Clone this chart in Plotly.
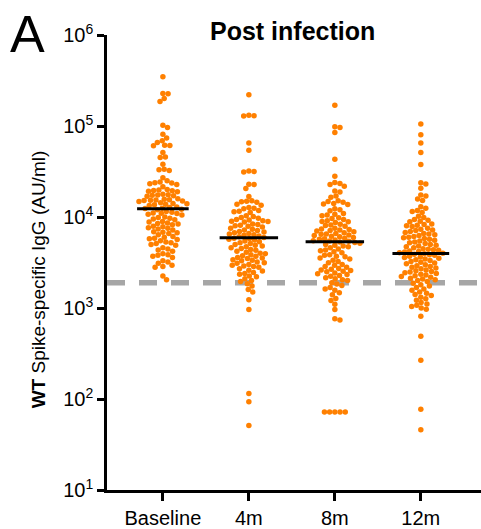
import numpy as np
import plotly.graph_objects as go

# ---------------- data (AU/ml) ----------------
categories = ["Baseline", "4m", "8m", "12m"]

baseline = [347000, 228000, 226000, 201000, 186000, 102000, 96000, 81000, 74000, 69000,
            66000, 61500, 61000, 60500, 51000, 45500, 45000, 38000, 33500, 33000, 32500,
            27000, 25000, 24200, 23800, 23600, 23200, 22800, 21500,
            20000, 19800, 19600, 19400, 19200, 19000,
            17800, 17600, 17400, 17300, 17100, 16900,
            15900, 15700, 15500, 15400, 15300, 15200, 15000, 14800,
            14300, 14100, 14000, 13800, 13600, 13400,
            12900, 12700, 12500, 12400, 12200, 12000,
            11500, 11300, 11100, 11000, 10900, 10700, 10500,
            10000, 9900, 9700, 9500, 9300,
            8900, 8800, 8600, 8500, 8400, 8200,
            7900, 7800, 7600, 7500, 7400, 7200,
            6900, 6800, 6700, 6600, 6400,
            6100, 6000, 5850, 5750, 5650, 5500,
            5300, 5200, 5100, 5000, 4900,
            4600, 4450, 4350, 4200,
            3950, 3850, 3800, 3700, 3600,
            3300, 3200, 3100,
            2950, 2850, 2800,
            2250, 2050]

m4 = [221000, 131000, 130000, 129000, 65000, 54000, 32000, 31600, 31200,
      22900, 22700, 20600, 16800,
      15100, 14900, 14700, 14500,
      13800, 13500,
      12700, 12500, 12300,
      11800, 11600, 11400, 11200,
      10300, 10100, 9900, 9700,
      9400, 9250, 9100, 9000, 8900, 8800,
      8400, 8250, 8100, 8000, 7900, 7750,
      7500, 7350, 7200, 7100, 6950, 6850,
      6700, 6600, 6500, 6400, 6300, 6200,
      6050, 5950, 5850, 5800, 5700, 5600,
      5450, 5350, 5200, 5100, 5000, 4900,
      4800, 4700, 4600, 4500, 4400, 4300,
      4200, 4100, 4000, 3950, 3850,
      3750, 3700, 3600, 3550, 3500, 3400,
      3350, 3300, 3200, 3150, 3100, 3000,
      2950, 2900, 2850, 2800, 2700,
      2600, 2550, 2450, 2400,
      2350, 2250, 2200,
      2100, 2000, 1950,
      1850, 1750,
      1600, 1500,
      1230, 960, 115, 93, 51]

m8 = [169000, 98000, 96000, 85000, 43000, 28000,
      24000, 23400, 22800, 21800,
      19300, 18800,
      17000, 16500,
      15100, 14800, 14500,
      14100, 13900, 13700,
      12300, 12000, 11700,
      10900, 10700, 10500, 10300,
      9800, 9600, 9400,
      9100, 8950, 8850, 8700,
      8300, 8150, 8050, 7900,
      7500, 7400, 7300, 7200, 7100, 7000, 6900,
      6700, 6600, 6500, 6450, 6350, 6250,
      6150, 6050, 5950, 5850, 5750, 5700, 5600,
      5500, 5450, 5400, 5300, 5250, 5150,
      5000, 4900, 4800, 4700, 4600,
      4450, 4350, 4250, 4150, 4050,
      3850, 3800, 3700, 3650, 3550,
      3450, 3350, 3250, 3150,
      3000, 2950, 2850, 2800,
      2720, 2670, 2620, 2580, 2540, 2500,
      2420, 2380, 2330, 2280, 2240,
      2150, 2100, 2050, 2000,
      1900, 1830, 1770,
      1680, 1620, 1570,
      1470, 1400,
      1270, 1210,
      1100, 960, 760, 740,
      72, 72, 72, 72, 72]

m12 = [105000, 80000, 65000, 51000, 37700,
       23800, 23000, 20700,
       17500, 17000,
       15800, 15200,
       13000, 12500,
       11800, 11500, 11200,
       10200, 9900,
       9400, 9200, 9000, 8850,
       8400, 8250, 8100, 8000, 7850,
       7500, 7350, 7200, 7100, 6950,
       6750, 6600, 6500, 6400, 6250,
       6100, 6000, 5900, 5800, 5700,
       5550, 5450, 5300, 5200, 5100,
       5000, 4900, 4800, 4700, 4600,
       4480, 4420, 4360, 4300, 4240, 4180, 4120,
       4050, 4000, 3950, 3900, 3850, 3800,
       3700, 3640, 3580, 3520, 3460, 3400,
       3320, 3250, 3180, 3120, 3060,
       2980, 2920, 2860, 2800, 2750, 2700,
       2620, 2570, 2520, 2480, 2440, 2400,
       2350, 2300, 2260, 2220, 2180,
       2120, 2080, 2040, 2000, 1960,
       1870, 1800, 1740,
       1680, 1620, 1570,
       1500, 1450, 1410, 1370,
       1310, 1260, 1220,
       1150, 1110, 1070,
       1040, 1000, 970,
       810, 490, 266, 77, 46]

medians = [12300, 5900, 5350, 3960]
threshold = 1900
y_exponents = [1, 2, 3, 4, 5, 6]

groups = [baseline, m4, m8, m12]

# ---------------- layout geometry ----------------
W, H = 481, 529
ML, MR, MT, MB = 107, 0, 35, 34
XR = [-0.65, 3.70]
YR = [1, 6]
PW = W - ML - MR
PH = H - MT - MB
PPU_X = PW / (XR[1] - XR[0])
PPU_Y = PH / (YR[1] - YR[0])
DOT_D = 5.2          # collision diameter in px
MED_HALF = [0.30, 0.34, 0.34, 0.33]
ORANGE = "#FF8000"
FONT = "Arial, 'Liberation Sans', sans-serif"


def swarm_offsets(values, diam):
    ys = np.log10(np.asarray(values, float)) * PPU_Y
    order = np.argsort(-ys, kind="stable")
    px_list, py_list = [], []
    offs = np.zeros(len(ys))
    for i in order:
        y = ys[i]
        cands = [0.0]
        for px, py in zip(px_list, py_list):
            dy = abs(py - y)
            if dy < diam:
                dx = np.sqrt(diam ** 2 - dy ** 2)
                cands += [px + dx, px - dx]
        cands.sort(key=lambda c: (round(abs(c), 6), -c))
        chosen = 0.0
        for c in cands:
            if all((px - c) ** 2 + (py - y) ** 2 >= diam ** 2 - 1e-6
                   for px, py in zip(px_list, py_list)):
                chosen = c
                break
        px_list.append(chosen)
        py_list.append(y)
        offs[i] = chosen
    return offs / PPU_X


fig = go.Figure()
for gi, vals in enumerate(groups):
    offs = swarm_offsets(vals, DOT_D)
    fig.add_trace(go.Scatter(
        x=gi + offs, y=vals, mode="markers",
        marker=dict(color=ORANGE, size=5.5, line=dict(width=0)),
        showlegend=False, hoverinfo="y", cliponaxis=False))

for gi, med in enumerate(medians):
    fig.add_trace(go.Scatter(
        x=[gi - MED_HALF[gi], gi + MED_HALF[gi]], y=[med, med], mode="lines",
        line=dict(color="black", width=3), showlegend=False, hoverinfo="skip"))

fig.add_shape(type="line", xref="paper", x0=0, x1=1, yref="y",
              y0=threshold, y1=threshold, layer="below",
              line=dict(color="#A6A6A6", width=5.5, dash="18px,14px"))

axis_common = dict(showline=True, linewidth=2.6, linecolor="black", mirror=False,
                   ticks="outside", tickwidth=2.6, tickcolor="black",
                   showgrid=False, zeroline=False,
                   tickfont=dict(family=FONT, size=20, color="black"))

fig.update_xaxes(range=XR, tickvals=list(range(len(categories))), ticktext=categories,
                 ticklen=8, **axis_common)
fig.update_yaxes(type="log", range=YR,
                 tickvals=[10 ** e for e in y_exponents],
                 ticktext=[f"10<sup>{e}</sup>" for e in y_exponents],
                 ticklen=7, **axis_common)

fig.add_annotation(text="<b>Post infection</b>", xref="paper", yref="paper",
                   x=(292 - ML) / PW, y=(H - MB - 31) / PH, xanchor="center", yanchor="middle",
                   showarrow=False, font=dict(family=FONT, size=25, color="black"))
fig.add_annotation(text="A", xref="paper", yref="paper",
                   x=(27.5 - ML) / PW, y=(H - MB - 34) / PH, xanchor="center", yanchor="middle",
                   showarrow=False, font=dict(family=FONT, size=52, color="black"))
fig.add_annotation(text="<b>WT</b> Spike-specific IgG (AU/ml)", xref="paper", yref="paper",
                   x=(38 - ML) / PW, y=(H - MB - 282) / PH, xanchor="center", yanchor="middle",
                   textangle=-90, showarrow=False,
                   font=dict(family=FONT, size=19, color="black"))

fig.update_layout(width=W, height=H, margin=dict(l=ML, r=MR, t=MT, b=MB, pad=0),
                  plot_bgcolor="white", paper_bgcolor="white",
                  font=dict(family=FONT, color="black"))

fig.write_html("out.html", config={"displayModeBar": False},
               post_script="document.body.style.margin='0';document.body.style.overflow='hidden';")
